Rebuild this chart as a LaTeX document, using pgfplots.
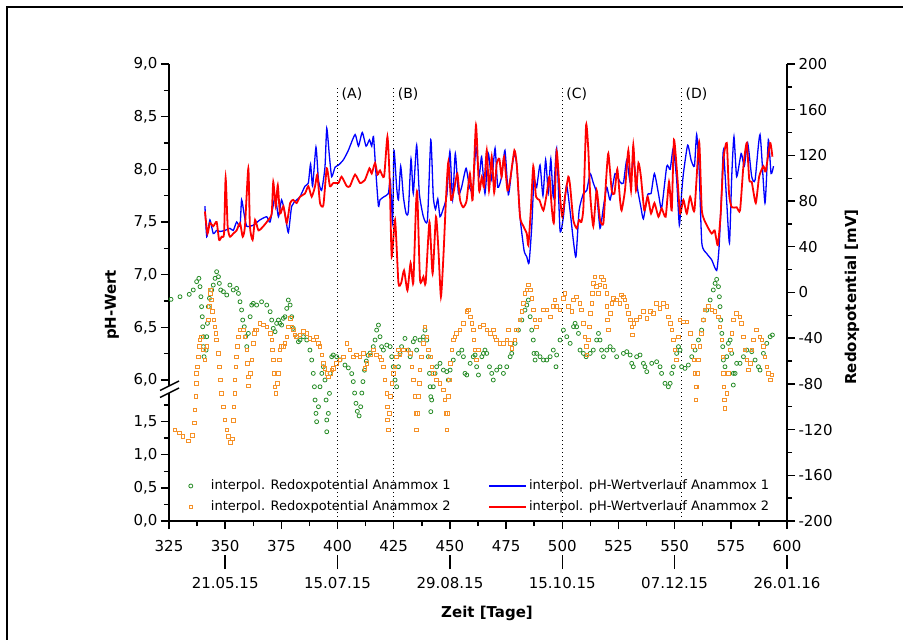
\documentclass[border=0pt]{standalone}
\usepackage{fontspec}
\setmainfont{DejaVu Sans}
\usepackage{pgfplots}
\usepackage{pgfplotstable}
\pgfplotsset{compat=1.18}

\definecolor{redoxA}{RGB}{40,140,40}
\definecolor{redoxB}{RGB}{245,145,40}

% redox potential, reactor 1 (day, mV)
\pgfplotstableread[row sep=\\]{
x y\\
325.9 -6.0\\ 329.9 -3.7\\ 334.0 -1.6\\ 335.8 2.2\\ 337.3 9.5\\ 338.3 12.4\\ 338.8 5.1\\ 339.2 -3.7\\ 339.5 -12.4\\ 339.8 -21.2\\
340.0 -30.0\\ 340.3 -38.7\\ 340.3 -47.4\\ 340.6 -56.2\\ 341.5 -50.4\\ 341.8 -38.7\\ 342.1 -27.0\\ 342.5 -12.4\\ 343.0 -5.1\\ 344.0 2.2\\
344.7 6.5\\ 345.5 12.4\\ 346.2 18.2\\ 347.0 13.8\\ 347.4 8.0\\ 348.0 2.2\\ 349.2 0.7\\ 350.7 -2.2\\ 352.1 6.5\\ 353.6 2.2\\
355.1 3.6\\ 355.9 -0.8\\ 356.6 -8.1\\ 357.3 -15.3\\ 357.8 -24.1\\ 358.5 -30.0\\ 359.1 -38.7\\ 359.6 -47.4\\ 360.3 -35.8\\ 361.1 -21.2\\
361.8 -11.0\\ 362.5 -9.5\\ 364.0 -11.0\\ 366.2 -8.1\\ 368.5 -11.0\\ 370.0 -16.8\\ 370.7 -24.1\\ 371.4 -31.4\\ 372.2 -34.3\\ 372.9 -27.0\\
373.7 -24.1\\ 374.4 -27.0\\ 375.1 -28.5\\ 375.9 -22.6\\ 376.6 -21.2\\ 377.4 -13.9\\ 378.1 -6.6\\ 378.9 -11.0\\ 379.6 -21.2\\ 380.3 -31.4\\
381.8 -38.7\\ 382.6 -43.1\\ 383.3 -41.6\\ 384.8 -38.7\\ 386.3 -41.6\\ 387.7 -50.4\\ 388.5 -59.1\\ 389.2 -70.8\\ 389.7 -82.5\\ 390.0 -94.1\\
390.4 -105.8\\ 390.7 -113.1\\ 391.5 -100.0\\ 392.2 -82.5\\ 393.0 -70.8\\ 393.7 -65.0\\ 394.4 -76.6\\ 394.9 -94.1\\ 395.2 -111.6\\ 395.2 -121.9\\
395.9 -105.8\\ 396.4 -88.3\\ 396.7 -70.8\\ 397.4 -56.2\\ 398.1 -54.7\\ 399.6 -56.2\\ 401.1 -59.0\\ 403.3 -63.5\\ 404.8 -66\\ 406.3 -71\\
407.0 -78\\ 407.6 -88\\ 408.2 -97\\ 408.8 -104\\ 409.6 -108\\ 410.3 -100\\ 410.8 -88\\ 411.3 -78\\ 412.0 -68\\ 412.8 -60\\
413.6 -55\\ 414.5 -53\\ 415.9 -47.4\\ 416.7 -41.6\\ 417.4 -32.9\\ 418.2 -28.5\\ 418.9 -38.7\\ 419.6 -47.4\\ 420.4 -50.4\\ 421.9 -46.0\\
423.4 -47.4\\ 424.1 -56.2\\ 424.8 -65.0\\ 425.6 -76.6\\ 426.3 -82.5\\ 427.1 -65.0\\ 427.8 -53.3\\ 428.5 -47.4\\ 430.0 -40.2\\ 431.5 -50.4\\
432.3 -56.2\\ 433.7 -43.1\\ 434.5 -40.2\\ 435.2 -50.4\\ 436.7 -41.6\\ 438.2 -38.7\\ 438.9 -32.9\\ 439.7 -41.6\\ 440.4 -56.2\\ 440.9 -70.8\\
441.2 -82.5\\ 441.5 -91.2\\ 441.5 -104.3\\ 441.9 -94.1\\ 442.6 -82.5\\ 443.4 -70.8\\ 444.1 -65.0\\ 445.6 -62.0\\ 447.1 -67.9\\ 448.6 -69.3\\
449.3 -76.6\\ 450.1 -67.9\\ 451.5 -59.1\\ 453.8 -53.3\\ 455.3 -50.4\\ 456.0 -56.2\\ 456.7 -70.8\\ 457.5 -72.2\\ 459.0 -62.0\\ 460.4 -56.2\\
461.2 -54.7\\ 461.9 -65.0\\ 462.7 -72.2\\ 464.2 -56.2\\ 464.9 -53.3\\ 465.6 -50.4\\ 466.4 -53.3\\ 467.6 -65.0\\ 468.6 -70.8\\ 469.3 -76.6\\
470.8 -67.9\\ 472.3 -65.0\\ 473.8 -70.8\\ 475.3 -65.0\\ 476.8 -56.2\\ 477.5 -53.3\\ 479.0 -44.5\\ 480.5 -32.9\\ 482.0 -24.1\\ 483.4 -15.4\\
484.2 -11.0\\ 484.9 -6.6\\ 485.7 -21.2\\ 486.4 -32.9\\ 487.1 -41.6\\ 487.4 -53.3\\ 487.9 -59.1\\ 488.6 -53.3\\ 490.1 -56.2\\ 491.6 -59.1\\
493.1 -59.1\\ 494.6 -56.2\\ 496.0 -50.4\\ 497.2 -65.0\\ 497.5 -54.7\\ 499.0 -41.6\\ 500.5 -32.9\\ 502.0 -38.7\\ 503.5 -44.5\\ 505.0 -29.9\\
505.7 -27.0\\ 506.4 -30.0\\ 507.2 -35.8\\ 507.9 -50.4\\ 509.4 -53.3\\ 510.6 -56.2\\ 512.4 -53.3\\ 513.8 -50.4\\ 515.3 -41.6\\ 516.1 -35.8\\
516.8 -41.6\\ 517.5 -50.4\\ 518.3 -56.2\\ 519.8 -50.4\\ 521.3 -47.4\\ 522.7 -50.4\\ 524.2 -56.2\\ 527.2 -53.3\\ 528.7 -51.8\\ 530.2 -54.7\\
530.9 -62.0\\ 531.6 -65.0\\ 533.1 -56.2\\ 534.6 -54.7\\ 536.1 -62.0\\ 536.8 -65.0\\ 537.6 -69.3\\ 539.8 -62.0\\ 542.0 -60.6\\ 543.5 -65.0\\
544.2 -70.8\\ 545.7 -79.5\\ 547.2 -82.5\\ 548.0 -79.5\\ 548.7 -70.8\\ 549.4 -65.0\\ 550.9 -53.3\\ 551.7 -47.4\\ 552.4 -50.4\\ 553.1 -65.0\\
554.6 -66.4\\ 556.1 -63.5\\ 557.6 -56.2\\ 559.1 -50.4\\ 560.6 -41.6\\ 562.0 -32.9\\ 562.8 -24.1\\ 564.3 -15.4\\ 565.8 -6.6\\ 567.2 2.2\\
568.0 8.0\\ 568.7 11.5\\ 569.5 5.1\\ 569.9 -3.7\\ 570.2 -12.4\\ 570.5 -24.1\\ 571.0 -35.8\\ 571.4 -47.4\\ 571.7 -59.1\\ 572.4 -65.0\\
573.2 -56.2\\ 573.9 -44.5\\ 574.7 -41.6\\ 575.4 -53.3\\ 576.1 -70.8\\ 576.1 -81.0\\ 576.9 -70.8\\ 577.6 -62.0\\ 579.1 -62.0\\ 580.6 -56.2\\
582.1 -50.4\\ 584.3 -51.8\\ 585.8 -59.1\\ 587.3 -65.0\\ 588.0 -67.9\\ 589.5 -53.3\\ 591.0 -44.5\\ 592.5 -38.7\\ 593.5 -37.2\\
}\redoxone

% redox potential, reactor 2 (day, mV)
\pgfplotstableread[row sep=\\]{
x y\\
327.7 -120.4\\ 329.5 -123\\ 331.1 -126\\ 333.5 -130\\ 335.3 -125\\ 336.2 -114\\ 336.6 -102.9\\ 337.0 -91.2\\ 337.3 -79.5\\ 337.3 -70.8\\
337.6 -65.0\\ 338.1 -56.2\\ 338.5 -47.4\\ 338.8 -41.6\\ 339.5 -38.7\\ 340.3 -50.4\\ 341.0 -59.1\\ 341.8 -47.4\\ 342.5 -24.1\\ 343.0 -12.4\\
343.3 -0.8\\ 343.5 2.2\\ 344.0 -6.6\\ 344.4 -16.8\\ 345.0 -24.1\\ 345.5 -30.0\\ 345.9 -35.8\\ 346.2 -41.6\\ 346.9 -53.3\\ 347.4 -65.0\\
348.0 -76.6\\ 348.4 -88.3\\ 349.2 -100.0\\ 349.9 -111.6\\ 350.7 -120.4\\ 351.4 -126\\ 352.4 -131\\ 353.3 -128\\ 353.6 -112\\ 353.9 -100.0\\
354.4 -88.3\\ 354.4 -76.6\\ 354.8 -65.0\\ 355.1 -56.2\\ 355.4 -47.4\\ 355.9 -38.7\\ 356.6 -32.9\\ 358.1 -32.9\\ 358.8 -38.7\\ 359.6 -50.4\\
359.9 -62.0\\ 360.2 -73.7\\ 360.3 -81.9\\ 361.1 -70.8\\ 361.8 -59.1\\ 362.5 -44.5\\ 363.0 -35.8\\ 363.3 -32.9\\ 364.0 -32.9\\ 365.5 -27.0\\
367.0 -28.5\\ 368.5 -30.0\\ 370.0 -35.8\\ 370.7 -41.6\\ 371.1 -50.4\\ 371.4 -59.1\\ 371.7 -70.8\\ 372.2 -82.5\\ 372.6 -88.3\\ 373.2 -79.5\\
373.7 -70.8\\ 374.1 -59.1\\ 374.4 -50.4\\ 375.1 -47.4\\ 375.9 -47.4\\ 376.6 -44.5\\ 377.4 -38.7\\ 378.1 -30.0\\ 378.9 -22.6\\ 379.6 -30.0\\
380.3 -32.9\\ 381.1 -37.2\\ 381.8 -38.7\\ 383.3 -37.2\\ 384.8 -34.3\\ 386.3 -35.8\\ 387.7 -40.2\\ 389.2 -41.6\\ 390.7 -38.7\\ 391.5 -44.5\\
392.2 -47.4\\ 393.0 -54.7\\ 393.7 -62.0\\ 394.4 -66.4\\ 395.2 -70.8\\ 395.9 -73.7\\ 396.7 -70.8\\ 397.4 -67.9\\ 398.1 -66.4\\ 399.6 -62.0\\
401.1 -59.1\\ 402.6 -56.2\\ 404.1 -44.5\\ 405.5 -50.4\\ 407.0 -56.2\\ 408.5 -54.7\\ 410.0 -56.2\\ 411.5 -53.3\\ 412.2 -66.4\\ 413.0 -62.0\\
414.5 -54.7\\ 416.0 -50.4\\ 417.4 -54.7\\ 418.9 -56.2\\ 419.6 -59.1\\ 420.4 -65.0\\ 421.1 -76.6\\ 421.9 -88.3\\ 422.2 -100.0\\ 422.3 -111.6\\
422.6 -120.4\\ 423.1 -105.8\\ 423.4 -91.2\\ 424.1 -79.5\\ 424.8 -70.8\\ 425.6 -65.0\\ 426.3 -56.2\\ 427.1 -50.4\\ 427.8 -54.7\\ 429.3 -50.4\\
430.8 -50.4\\ 432.3 -53.3\\ 433.0 -65.0\\ 433.7 -76.6\\ 434.5 -91.2\\ 434.9 -105.8\\ 435.2 -120.4\\ 435.5 -105.8\\ 436.0 -91.2\\ 436.4 -79.5\\
436.7 -67.9\\ 437.4 -56.2\\ 438.2 -44.5\\ 438.9 -30.0\\ 439.7 -38.7\\ 440.4 -50.4\\ 441.2 -56.2\\ 441.9 -65.0\\ 442.6 -70.8\\ 444.1 -76.6\\
445.6 -79.5\\ 447.1 -85.4\\ 447.8 -94.1\\ 448.3 -105.8\\ 448.6 -120.4\\ 448.9 -105.8\\ 449.3 -91.2\\ 449.8 -76.6\\ 450.1 -62.0\\ 450.8 -50.4\\
451.5 -41.6\\ 452.3 -38.7\\ 453.0 -35.8\\ 454.5 -32.9\\ 456.0 -27.0\\ 457.5 -16.8\\ 458.2 -15.3\\ 459.0 -21.2\\ 459.7 -27.0\\ 460.4 -32.9\\
460.7 -41.6\\ 461.2 -50.4\\ 461.9 -59.1\\ 462.7 -50.4\\ 463.4 -30.0\\ 464.9 -28.5\\ 466.4 -32.9\\ 467.9 -35.8\\ 469.3 -32.9\\ 470.1 -38.7\\
470.8 -41.6\\ 472.3 -44.5\\ 473.8 -44.5\\ 475.3 -41.6\\ 476.0 -32.9\\ 476.8 -44.5\\ 477.5 -48.9\\ 479.0 -41.6\\ 479.7 -32.9\\ 481.2 -24.1\\
482.0 -16.8\\ 482.7 -9.5\\ 483.4 -0.8\\ 484.2 2.2\\ 484.9 6.5\\ 485.7 2.2\\ 486.4 -5.1\\ 487.1 -15.3\\ 487.9 -24.1\\ 488.6 -30.0\\
490.1 -24.1\\ 491.6 -15.3\\ 493.1 -15.3\\ 494.6 -21.2\\ 496.0 -12.4\\ 496.8 -6.6\\ 497.5 -12.4\\ 499.0 -15.3\\ 500.5 -5.1\\ 501.2 -0.8\\
502.7 -12.4\\ 504.2 -16.8\\ 504.9 -6.6\\ 506.4 -3.7\\ 507.9 -9.5\\ 508.6 -15.3\\ 509.4 -27.0\\ 510.1 -38.7\\ 510.6 -47.4\\ 510.9 -54.7\\
511.6 -41.6\\ 512.1 -30.0\\ 512.4 -18.3\\ 513.1 -9.5\\ 513.5 -0.8\\ 513.8 8.0\\ 514.6 13.8\\ 515.3 5.1\\ 516.1 -0.8\\ 516.8 6.5\\
517.5 13.8\\ 518.3 10.9\\ 519.0 5.1\\ 519.8 -0.8\\ 519.8 -12.4\\ 520.1 -24.1\\ 520.5 -32.9\\ 521.3 -18.3\\ 522.0 -9.5\\ 522.7 -5.1\\
524.2 -6.6\\ 525.7 -9.5\\ 526.4 -2.2\\ 527.2 -3.7\\ 527.9 -6.6\\ 528.7 -12.4\\ 529.4 -18.3\\ 530.2 -24.1\\ 530.9 -30.0\\ 531.3 -37.2\\
531.9 -27.0\\ 533.1 -24.1\\ 534.6 -21.2\\ 536.1 -16.8\\ 537.6 -22.6\\ 539.1 -16.8\\ 540.5 -18.3\\ 542.0 -9.5\\ 543.5 -13.9\\ 545.0 -9.5\\
546.5 -12.4\\ 547.2 -21.2\\ 548.0 -27.0\\ 548.7 -32.9\\ 549.4 -41.6\\ 550.2 -50.4\\ 550.9 -59.1\\ 551.7 -38.7\\ 552.4 -24.1\\ 553.9 -25.6\\
555.4 -25.6\\ 556.9 -35.8\\ 558.3 -47.4\\ 558.6 -59.1\\ 559.1 -70.8\\ 559.4 -82.5\\ 559.5 -94.1\\ 559.8 -82.5\\ 560.1 -70.8\\ 560.6 -59.1\\
561.3 -47.4\\ 562.0 -35.8\\ 562.8 -24.1\\ 563.5 -15.3\\ 565.0 -12.4\\ 566.5 -15.3\\ 568.0 -16.8\\ 569.5 -21.2\\ 570.2 -30.0\\ 571.0 -41.6\\
571.4 -56.2\\ 571.7 -70.8\\ 572.0 -82.5\\ 572.1 -94.1\\ 572.3 -101.4\\ 573.2 -88.3\\ 573.9 -70.8\\ 574.7 -50.4\\ 575.4 -35.8\\ 576.1 -24.1\\
577.6 -18.3\\ 579.1 -21.2\\ 579.8 -27.0\\ 580.6 -38.7\\ 581.3 -50.4\\ 582.1 -59.1\\ 582.8 -67.9\\ 583.6 -62.0\\ 584.3 -50.4\\ 585.0 -41.6\\
586.5 -32.9\\ 588.0 -38.7\\ 588.8 -41.6\\ 589.5 -47.4\\ 590.2 -56.2\\ 591.0 -65.0\\ 591.7 -70.8\\ 592.5 -76.6\\ 593.2 -72.2\\
}\redoxtwo

% pH, reactor 1 (day, pH)
\pgfplotstableread[row sep=\\]{
x y\\
341.0 7.65\\ 341.8 7.36\\ 343.2 7.52\\ 344.7 7.39\\ 346.2 7.42\\ 347.7 7.41\\ 349.9 7.42\\ 352.1 7.44\\ 353.6 7.42\\ 355.1 7.50\\
356.6 7.46\\ 357.3 7.71\\ 358.4 7.58\\ 359.6 7.46\\ 362.5 7.47\\ 365.5 7.52\\ 368.5 7.55\\ 370.0 7.50\\ 372.2 7.74\\ 373.7 7.55\\
375.1 7.71\\ 376.6 7.58\\ 378.1 7.40\\ 379.6 7.65\\ 381.8 7.71\\ 383.3 7.74\\ 385.5 7.84\\ 387.0 7.87\\ 388.0 8.05\\ 388.9 7.84\\
390.4 8.21\\ 391.5 7.90\\ 392.9 7.80\\ 394.4 8.02\\ 395.2 8.39\\ 396.4 8.12\\ 397.4 7.93\\ 398.9 8.02\\ 400.4 8.04\\ 402.6 8.09\\
404.8 8.18\\ 407.8 8.33\\ 409.3 8.22\\ 411.0 8.35\\ 412.7 8.22\\ 414.2 8.28\\ 415.2 8.22\\ 416.0 8.31\\ 417.1 7.96\\ 418.2 7.65\\
418.9 7.71\\ 420.7 7.74\\ 422.6 7.77\\ 423.5 7.90\\ 424.5 7.49\\ 425.1 8.18\\ 426.3 7.83\\ 427.1 7.71\\ 428.1 8.03\\ 429.3 7.74\\
430.5 7.58\\ 431.5 7.60\\ 432.7 8.10\\ 433.7 7.77\\ 435.2 8.23\\ 436.4 7.77\\ 438.2 7.55\\ 440.0 7.52\\ 441.5 8.28\\ 442.6 7.74\\
443.6 7.62\\ 444.6 7.72\\ 445.6 7.55\\ 447.1 7.63\\ 448.6 7.75\\ 450.0 8.17\\ 451.2 7.71\\ 452.4 8.15\\ 453.8 7.77\\ 455.2 7.83\\
457.2 8.01\\ 458.7 7.83\\ 460.2 7.80\\ 461.6 8.21\\ 463.0 7.93\\ 464.1 8.12\\ 465.6 7.77\\ 467.1 8.15\\ 468.6 7.90\\ 470.1 8.20\\
471.3 7.83\\ 473.0 7.93\\ 474.5 8.18\\ 476.0 7.76\\ 477.5 8.00\\ 478.7 8.15\\ 479.8 8.03\\ 481.2 7.55\\ 483.0 7.23\\ 484.2 7.17\\
485.2 7.11\\ 486.4 7.45\\ 487.4 7.90\\ 488.6 7.83\\ 490.1 8.04\\ 491.4 7.75\\ 492.6 8.09\\ 493.8 7.78\\ 494.9 8.10\\ 496.0 7.74\\
497.5 8.20\\ 499.0 7.42\\ 500.5 7.55\\ 501.9 7.85\\ 503.5 7.60\\ 504.9 7.33\\ 506.1 7.17\\ 507.5 7.61\\ 509.4 7.77\\ 510.9 7.80\\
512.4 7.96\\ 513.8 7.87\\ 515.3 7.77\\ 516.8 7.44\\ 518.3 7.64\\ 519.8 7.83\\ 521.3 7.71\\ 523.5 7.96\\ 525.7 7.88\\ 527.2 7.87\\
528.7 8.09\\ 530.2 7.88\\ 531.6 8.09\\ 533.6 7.80\\ 535.0 7.64\\ 536.1 7.53\\ 538.0 7.76\\ 539.5 7.77\\ 541.0 7.96\\ 542.8 7.77\\
544.2 7.63\\ 546.5 8.03\\ 548.0 8.00\\ 549.4 8.20\\ 550.9 7.90\\ 552.1 7.47\\ 553.1 7.77\\ 553.9 7.96\\ 555.8 8.23\\ 557.3 8.09\\
558.8 8.03\\ 559.8 8.33\\ 560.9 8.00\\ 562.1 7.30\\ 564.3 7.20\\ 566.5 7.14\\ 568.7 7.04\\ 569.8 7.27\\ 571.0 7.83\\ 571.7 8.18\\
573.2 7.68\\ 574.4 7.30\\ 575.4 7.93\\ 576.4 8.31\\ 577.6 7.93\\ 579.6 8.15\\ 581.0 8.03\\ 582.5 8.25\\ 584.3 7.93\\ 585.8 7.90\\
588.0 8.33\\ 590.2 7.68\\ 591.7 8.28\\ 592.9 7.96\\ 594.0 8.03\\
}\phone

% pH, reactor 2 (day, pH)
\pgfplotstableread[row sep=\\]{
x y\\
341.0 7.60\\ 342.1 7.39\\ 343.2 7.49\\ 344.7 7.46\\ 346.2 7.50\\ 347.3 7.33\\ 348.4 7.36\\ 349.5 7.39\\ 350.2 7.92\\ 351.1 7.46\\
352.1 7.36\\ 353.6 7.39\\ 355.1 7.42\\ 356.6 7.49\\ 357.8 7.36\\ 358.8 7.46\\ 360.3 8.01\\ 361.0 7.46\\ 362.2 7.33\\ 363.3 7.52\\
364.8 7.42\\ 367.0 7.46\\ 369.2 7.52\\ 370.7 7.58\\ 371.4 7.88\\ 372.5 7.65\\ 373.4 7.85\\ 374.4 7.58\\ 375.9 7.65\\ 377.4 7.49\\
378.9 7.68\\ 380.3 7.71\\ 381.8 7.68\\ 383.3 7.74\\ 385.5 7.77\\ 387.0 7.84\\ 388.5 7.74\\ 390.0 7.84\\ 391.0 7.95\\ 392.2 7.68\\
393.7 7.66\\ 395.2 8.01\\ 396.6 7.84\\ 398.1 7.87\\ 400.4 7.87\\ 401.8 7.93\\ 404.1 7.84\\ 405.5 7.84\\ 407.8 7.95\\ 410.0 7.87\\
412.2 7.90\\ 414.2 8.01\\ 415.2 7.96\\ 416.7 8.06\\ 417.8 7.95\\ 418.9 7.99\\ 420.7 7.93\\ 422.2 8.31\\ 423.2 7.90\\ 424.1 7.17\\
425.6 7.52\\ 427.1 6.92\\ 428.3 6.92\\ 429.6 7.04\\ 431.1 6.85\\ 432.5 7.11\\ 433.7 6.92\\ 434.9 7.65\\ 435.5 7.77\\ 436.7 6.95\\
438.2 6.98\\ 439.2 6.92\\ 440.9 7.50\\ 442.3 7.01\\ 443.8 7.55\\ 444.9 7.23\\ 446.0 6.79\\ 447.1 7.17\\ 448.3 7.74\\ 449.3 8.07\\
450.5 7.71\\ 451.8 7.80\\ 453.3 7.96\\ 454.5 7.71\\ 455.9 7.64\\ 457.4 7.70\\ 458.9 7.96\\ 460.1 7.71\\ 461.6 8.42\\ 463.0 7.80\\
464.2 7.93\\ 465.2 7.83\\ 466.4 8.18\\ 467.4 7.80\\ 468.6 8.12\\ 469.7 7.78\\ 470.8 8.05\\ 472.0 8.10\\ 473.0 7.93\\ 474.1 8.12\\
475.6 7.80\\ 476.8 7.90\\ 478.7 8.18\\ 479.8 8.03\\ 481.2 7.55\\ 482.7 7.46\\ 484.2 7.39\\ 484.9 7.28\\ 486.0 7.61\\ 487.1 8.03\\
488.3 7.74\\ 489.8 7.71\\ 491.6 7.61\\ 493.1 7.77\\ 494.3 7.93\\ 495.3 7.64\\ 496.3 7.50\\ 497.5 8.17\\ 499.0 7.74\\ 500.0 7.55\\
501.2 7.74\\ 502.7 7.93\\ 503.5 7.84\\ 504.9 7.52\\ 506.4 7.44\\ 507.5 7.52\\ 508.5 7.50\\ 509.4 7.64\\ 510.6 8.42\\ 511.6 8.18\\
512.4 7.77\\ 513.8 7.46\\ 515.3 7.80\\ 516.8 7.52\\ 518.3 7.49\\ 519.5 7.90\\ 520.5 8.15\\ 522.0 7.80\\ 523.2 7.77\\ 524.5 8.00\\
525.7 7.71\\ 526.4 7.61\\ 527.9 7.80\\ 529.4 8.18\\ 530.6 7.80\\ 531.6 8.23\\ 532.8 7.80\\ 533.9 8.06\\ 535.0 7.93\\ 536.5 7.61\\
538.0 7.74\\ 539.5 7.58\\ 541.0 7.68\\ 542.8 7.55\\ 544.2 7.63\\ 546.0 7.55\\ 547.5 7.88\\ 548.7 7.61\\ 549.7 8.28\\ 551.2 7.93\\
552.4 7.58\\ 553.9 7.71\\ 555.4 7.58\\ 556.9 7.74\\ 558.8 7.61\\ 560.9 8.26\\ 562.1 7.61\\ 564.3 7.47\\ 566.5 7.39\\ 567.8 7.42\\
569.2 7.28\\ 570.5 7.58\\ 571.7 8.09\\ 573.2 8.25\\ 574.2 7.77\\ 575.4 7.64\\ 577.6 7.64\\ 579.1 7.61\\ 580.6 8.03\\ 582.1 8.25\\
583.2 7.90\\ 584.3 7.88\\ 586.1 7.68\\ 587.6 7.93\\ 589.5 8.03\\ 590.5 7.98\\ 592.5 8.25\\ 593.5 8.12\\
}\phtwo

\pgfplotsset{
  frame/.style={
    scale only axis, width=618bp, height=457bp,
    at={(0,0)}, anchor=south west,
    xmin=325, xmax=600, clip=false,
    tick align=outside,
    major tick length=8bp, minor tick length=5bp,
    axis line style={line width=1.6bp,-},
    tick style={line width=1.4bp,black},
    /pgf/number format/assume math mode=true,
    tick label style={font=\fontsize{15bp}{18bp}\selectfont},
    label style={font=\fontsize{15bp}{18bp}\selectfont\bfseries},
  },
}
\tikzset{
  phaselabel/.style={anchor=west, inner sep=0pt, font=\fontsize{14bp}{16bp}\selectfont, xshift=4bp},
  phaseline/.style={line width=1.3bp, dash pattern=on 1.3bp off 2.7bp},
}

\begin{document}
\begin{tikzpicture}
\useasboundingbox (-169bp,-119bp) rectangle (734bp,521bp);
\draw[line width=2bp] (-162bp,-119bp) -- (-162bp,514bp) -- (734bp,514bp);

% pH axis (left) with the day axis
\begin{axis}[frame,
  ymin=4.6613, ymax=9,
  axis x line*=bottom, axis y line*=left,
  xtick={325,350,...,600}, minor x tick num=1,
  xticklabel style={yshift=-8bp},
  ytick={4.6613,4.9763,5.2912,5.6062,6,6.5,7,7.5,8,8.5,9},
  yticklabels={{0,0},{0,5},{1,0},{1,5},{6,0},{6,5},{7,0},{7,5},{8,0},{8,5},{9,0}},
  minor ytick={4.8188,5.1337,5.4487,5.7637,6.25,6.75,7.25,7.75,8.25,8.75},
  ylabel={pH-Wert},
  ylabel style={at={(axis description cs:-0.0922,0.4726)},anchor=center},
  xlabel={Zeit [Tage]},
  xlabel style={at={(axis description cs:0.5146,-0.2013)},anchor=center},
  legend style={draw=none, fill=none, inner sep=0pt, at={(0,0)}, anchor=south west,
    xshift=319bp, yshift=6bp, font=\fontsize{13bp}{15bp}\selectfont,
    nodes={inner sep=2bp, text depth=0.2em}, row sep=5bp},
  legend cell align=left,
  legend image code/.code={\draw[#1] (0bp,0bp) -- (37bp,0bp);},
]
\addplot[blue, line width=1.3bp, smooth, tension=0.35] table {\phone};
\addlegendentry{interpol. pH-Wertverlauf Anammox 1}
\addplot[red, line width=1.8bp, smooth, tension=0.35] table {\phtwo};
\addlegendentry{interpol. pH-Wertverlauf Anammox 2}
\end{axis}

% redox axis (right)
\begin{axis}[frame,
  ymin=-200, ymax=200,
  axis x line=none, axis y line*=right,
  ytick={-200,-160,...,200}, minor y tick num=1,
  ylabel={Redoxpotential [mV]},
  ylabel style={at={(axis description cs:1.1052,0.4902)},anchor=center},
  legend style={draw=none, fill=none, inner sep=0pt, at={(0,0)}, anchor=south west,
    xshift=19.6bp, yshift=6bp, font=\fontsize{13bp}{15bp}\selectfont,
    nodes={inner sep=2bp, text depth=0.2em}, row sep=5bp},
  legend cell align=left,
  legend image code/.code={\draw[#1] plot coordinates {(0bp,0bp)}; \path[draw=none] (18bp,0bp) circle (0.1bp);},
]
\addplot[only marks, mark=o, mark size=2bp, redoxA, mark options={line width=0.8bp}] table {\redoxone};
\addlegendentry{interpol. Redoxpotential Anammox 1}
\addplot[only marks, mark=square, mark size=1.8bp, redoxB, mark options={line width=0.8bp}] table {\redoxtwo};
\addlegendentry{interpol. Redoxpotential Anammox 2}
\draw[phaseline] (axis cs:400,-200) -- (axis cs:400,179);
\draw[phaseline] (axis cs:425,-200) -- (axis cs:425,179);
\draw[phaseline] (axis cs:500,-200) -- (axis cs:500,179);
\draw[phaseline] (axis cs:553,-200) -- (axis cs:553,179);
\node[phaselabel] at (axis cs:400,173.5) {(A)};
\node[phaselabel] at (axis cs:425,173.5) {(B)};
\node[phaselabel] at (axis cs:500,173.5) {(C)};
\node[phaselabel] at (axis cs:553,173.5) {(D)};
\end{axis}

% date axis below the day axis
\begin{axis}[
  scale only axis, width=618bp, height=10bp,
  at={(0,-34bp)}, anchor=south west,
  xmin=325, xmax=600, ymin=0, ymax=1,
  axis y line=none, axis x line*=bottom,
  x axis line style={draw=none},
  tick align=outside, major tick length=14bp,
  tick style={line width=1.4bp,black},
  xtick={350,400,450,500,550,600},
  xticklabels={21.05.15,15.07.15,29.08.15,15.10.15,07.12.15,26.01.16},
  xticklabel style={yshift=-5bp},
  tick label style={font=\fontsize{15bp}{18bp}\selectfont},
]
\end{axis}

% axis break on the pH axis
\fill[white] (-2.5bp,128bp) rectangle (2.5bp,135bp);
\draw[line width=1.4bp] (-9bp,130.5bp) -- (10bp,140bp);
\draw[line width=1.4bp] (-9bp,123.5bp) -- (10bp,133bp);
\end{tikzpicture}
\end{document}
